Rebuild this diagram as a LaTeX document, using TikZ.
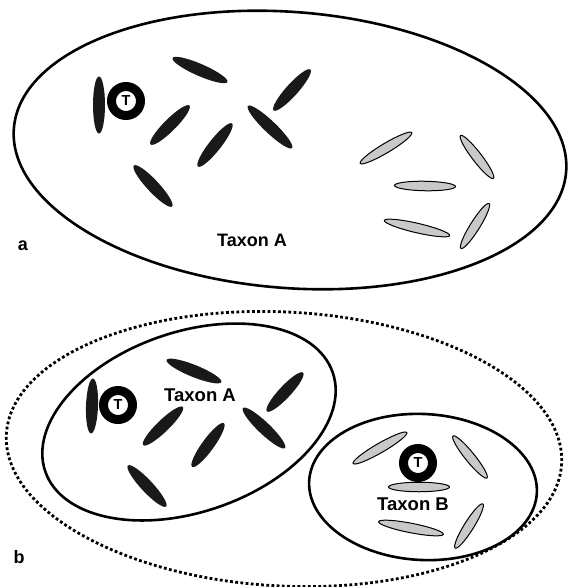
\documentclass[tikz,border=0pt]{standalone}
\usepackage{fontspec}
\setmainfont{Liberation Sans}
\usetikzlibrary{shapes.geometric}
\begin{document}
\begin{tikzpicture}[x=1pt,y=-1pt,
  darkblade/.style={ellipse, fill=black!90, draw=none, minimum width=#1, minimum height=12, inner sep=0pt},
  greyblade/.style={ellipse, fill=gray!42, draw=black, line width=1pt, minimum width=#1, minimum height=9.5, inner sep=0pt},
  ring/.style={circle, draw=black, line width=9pt, fill=white, minimum size=29pt, inner sep=0pt, font=\fontsize{14.5}{14.5}\selectfont\bfseries},
  taxon/.style={font=\fontsize{#1}{#1}\selectfont\bfseries, inner sep=0pt},
  panel/.style={font=\fontsize{18}{18}\selectfont\bfseries, inner sep=0pt},
  outline/.style={draw=black, line width=2.6pt},
  dotline/.style={draw=black, line width=2.8pt, dash pattern=on 2.8pt off 2.4pt}
]
\useasboundingbox (0,0) rectangle (569,587);

% ---------- panel a ----------
\draw[outline, rotate around={-4.5:(290,150)}] (290,150) ellipse [x radius=277, y radius=138];

\node[darkblade=57, rotate=90] (a1) at (99,105) {};
\node[ring] (aT) at (126,101) {T};
\node[darkblade=60, rotate=-23.6] (a2) at (200,70) {};
\node[darkblade=55, rotate=45] (a3) at (170,125) {};
\node[darkblade=55, rotate=51.7] (a4) at (215,145) {};
\node[darkblade=61, rotate=-43.7] (a5) at (270,127) {};
\node[darkblade=55, rotate=48] (a6) at (292,90) {};
\node[darkblade=56, rotate=-47] (a7) at (153,186) {};

\node[greyblade=60, rotate=30.8] (ag1) at (386,148) {};
\node[greyblade=54, rotate=-52.5] (ag2) at (477,157) {};
\node[greyblade=61, rotate=-1] (ag3) at (425,186) {};
\node[greyblade=67, rotate=-13] (ag4) at (417,228) {};
\node[greyblade=53, rotate=58] (ag5) at (475,226) {};

\node[taxon=18] (aTaxA) at (252,240) {Taxon A};
\node[panel] (alabel) at (23,246) {a};

% ---------- panel b ----------
\draw[dotline, rotate around={-3:(284,449)}] (284,449) ellipse [x radius=278, y radius=137];
\draw[outline, rotate around={19:(189,422)}] (189,422) ellipse [x radius=152, y radius=90];
\draw[outline, rotate around={-3:(423,487)}] (423,487) ellipse [x radius=114, y radius=73];

\node[darkblade=55, rotate=88] (b1) at (92,406) {};
\node[ring] (bTA) at (118,405) {T};
\node[darkblade=59, rotate=-22] (b2) at (194,371) {};
\node[darkblade=55, rotate=44] (b3) at (163,426) {};
\node[darkblade=54, rotate=54] (b4) at (208,445) {};
\node[darkblade=58, rotate=-43.6] (b5) at (264,428) {};
\node[darkblade=53, rotate=47] (b6) at (285,392) {};
\node[darkblade=56, rotate=-47] (b7) at (147,486) {};
\node[taxon=18.5] (bTaxA) at (200,395) {Taxon A};

\node[greyblade=62, rotate=30] (bg1) at (380,448) {};
\node[greyblade=54, rotate=-51] (bg2) at (470,457) {};
\node[greyblade=61, rotate=0] (bg3) at (419,487) {};
\node[greyblade=66, rotate=-11] (bg4) at (411,528) {};
\node[greyblade=52, rotate=58] (bg5) at (469,526) {};
\node[ring] (bTB) at (418,463) {T};
\node[taxon=18.5] (bTaxB) at (413,504) {Taxon B};

\node[panel] (blabel) at (19,557) {b};
\end{tikzpicture}
\end{document}
